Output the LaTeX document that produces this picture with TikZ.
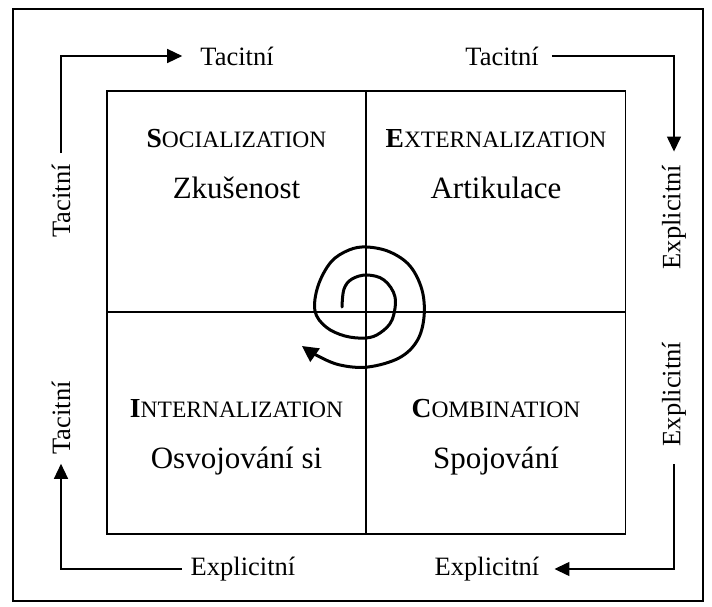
\documentclass[tikz,border=0pt]{standalone}
\usepackage{fontspec}
\setmainfont{Liberation Serif}
\usetikzlibrary{arrows.meta}

% Heading: bold initial, remaining letters as small capitals
\newcommand\qhead[2]{{\fontsize{27.5}{30}\selectfont\bfseries #1}{\fontsize{23.5}{26}\selectfont #2}}

\begin{document}
\begin{tikzpicture}[x=1pt,y=-1pt,
  quad/.style={draw,line width=1.8pt,minimum width=259pt,minimum height=221.5pt,inner sep=0pt},
  qtitle/.style={anchor=base,inner sep=0pt},
  qword/.style={anchor=base,inner sep=0pt,font=\fontsize{31}{34}\selectfont},
  flow/.style={inner sep=0pt,font=\fontsize{26.5}{30}\selectfont},
  link/.style={line width=1.4pt},
  tip/.style={-{Triangle[length=15pt,width=14pt]}},
  spiral/.style={line width=3pt,line cap=round,-{Triangle[length=16pt,width=16pt]}}
]
\useasboundingbox (0,0) rectangle (712,607);
% outer frame
\draw[line width=2.4pt] (13,9) rectangle (703,601);

% the four quadrants
\node[quad] (q1) at (236.5,201.5) {};
\node[quad] (q2) at (496,201.5) {};
\node[quad] (q3) at (236.5,423) {};
\node[quad] (q4) at (496,423) {};

\node[qtitle] (h1) at (236.5,147) {\qhead{S}{OCIALIZATION}};
\node[qword]  (w1) at (236.5,198) {Zkušenost};
\node[qtitle] (h2) at (496,147) {\qhead{E}{XTERNALIZATION}};
\node[qword]  (w2) at (496,198) {Artikulace};
\node[qtitle] (h3) at (236.5,417) {\qhead{I}{NTERNALIZATION}};
\node[qword]  (w3) at (236.5,468) {Osvojování si};
\node[qtitle] (h4) at (496,417) {\qhead{C}{OMBINATION}};
\node[qword]  (w4) at (496,468) {Spojování};

% knowledge-type labels around the grid
\node[flow] (tt1) at (237,56) {Tacitní};
\node[flow] (tt2) at (502,56) {Tacitní};
\node[flow,rotate=90] (lt1) at (61,201) {Tacitní};
\node[flow,rotate=90] (lt2) at (61,418) {Tacitní};
\node[flow,rotate=90] (re1) at (674,217) {Explicitní};
\node[flow,rotate=90] (re2) at (674,394) {Explicitní};
\node[flow] (be1) at (243,569) {Explicitní};
\node[flow] (be2) at (487,569) {Explicitní};

% conversion connectors
\draw[link,tip,shorten <=11pt,shorten >=18pt] (lt1.east) |- (tt1.west);
\draw[link,tip,shorten <=13pt,shorten >=13pt] (tt2.east) -| (re1.east);
\draw[link,tip,shorten <=18pt,shorten >=15pt] (re2.west) |- (be2.east);
\draw[link,tip,shorten <=9pt,shorten >=9pt] (be1.west) -| (lt2.west);

% spiral of knowledge creation
\draw[spiral] plot[smooth,tension=0.6] coordinates {
  (342,307) (344,289) (352,279) (367,275) (384,280) (395,297) (392,320)
  (380,333) (366,338) (345,336) (326,327) (315,311) (318,286) (331,262)
  (349,250) (367,247) (390,252) (410,266) (422,290) (424,317) (417,341)
  (399,358) (368,367) (340,365) (318,356) (302,346)};
\end{tikzpicture}
\end{document}
